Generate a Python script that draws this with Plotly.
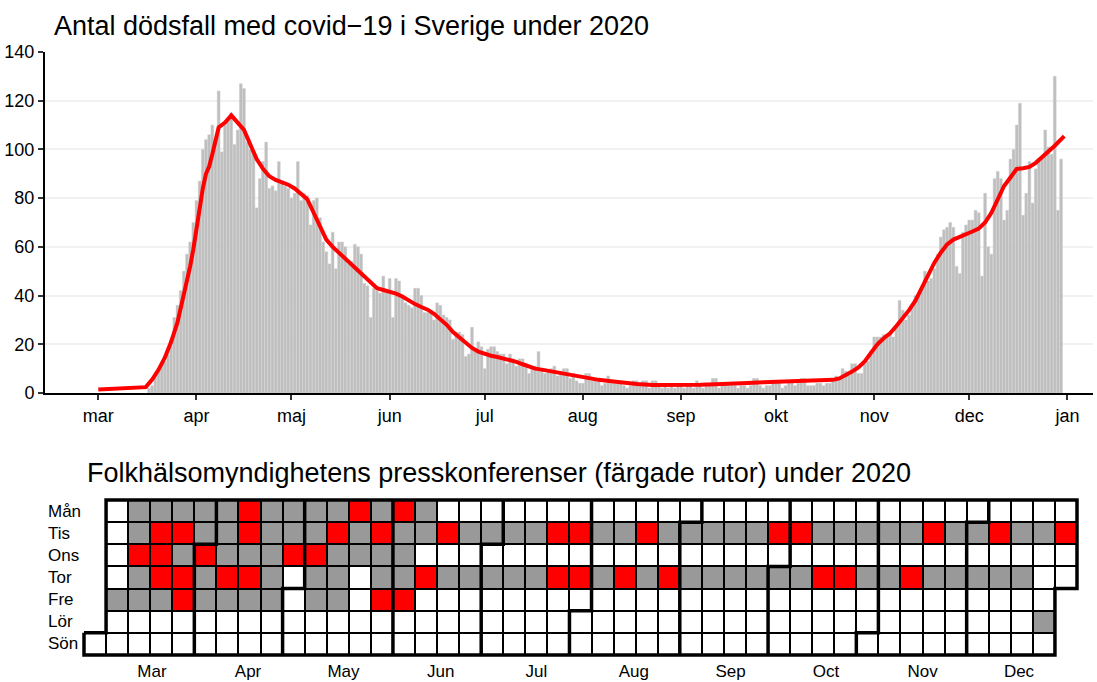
import plotly.graph_objects as go
from datetime import date, datetime, timedelta

# ---------------- data ----------------
TITLE_TOP = "Antal dödsfall med covid−19 i Sverige under 2020"
TITLE_BOTTOM = "Folkhälsomyndighetens presskonferenser (färgade rutor) under 2020"

deaths_first_day = "2020-03-17"
deaths = [
    2, 3, 8, 9, 12, 13, 16, 22, 31, 36, 42, 50, 57, 62, 70,
    79, 87, 100, 104, 106, 110, 103, 124, 99, 110,
    113, 115, 102, 108, 127, 125, 103, 100, 99, 76,
    88, 95, 103, 84, 85, 83, 95, 86, 85, 84,
    80, 82, 95, 79, 82, 81, 69, 79, 80, 72,
    62, 58, 53, 66, 51, 62, 62, 60, 53, 54,
    61, 60, 57, 45, 44, 31, 43, 42, 41, 48,
    42, 47, 31, 47, 46, 39, 37, 36, 35, 43,
    43, 40, 33, 33, 33, 30, 37, 36, 32, 31,
    30, 22, 25, 25, 24, 15, 16, 27, 17, 21,
    19, 10, 18, 19, 19, 17, 16, 16, 12, 16,
    14, 11, 14, 14, 12, 8, 10, 11, 17, 9,
    8, 9, 10, 11, 7, 9, 10, 10, 6, 8,
    5, 4, 4, 8, 8, 5, 5, 5, 3, 4,
    7, 4, 4, 4, 4, 3, 2, 3, 5, 5,
    3, 5, 5, 2, 5, 5, 3, 2, 3, 2,
    3, 2, 3, 3, 2, 3, 3, 2, 5, 3,
    2, 3, 3, 6, 6, 2, 4, 4, 3, 3,
    3, 2, 3, 3, 2, 3, 6, 6, 3, 2,
    3, 3, 5, 5, 5, 2, 3, 5, 5, 3,
    4, 6, 6, 3, 3, 3, 4, 4, 3, 4,
    4, 5, 7, 6, 10, 9, 8, 12, 12, 8,
    8, 12, 13, 17, 23, 23, 23, 24, 24, 24,
    23, 28, 38, 34, 30, 32, 35, 40, 40, 42,
    50, 46, 47, 51, 57, 64, 67, 68, 70, 68,
    52, 49, 66, 69, 71, 71, 75, 74, 48, 82,
    60, 57, 88, 91, 88, 71, 75, 96, 100, 110,
    119, 73, 82, 95, 78, 92, 95, 97, 108, 101,
    98, 130, 75, 96,
]

avg_dates = [
    "2020-03-01", "2020-03-16", "2020-03-18", "2020-03-20", "2020-03-22", "2020-03-24",
    "2020-03-26", "2020-03-28", "2020-03-30", "2020-03-31", "2020-04-01", "2020-04-02",
    "2020-04-03", "2020-04-04", "2020-04-05", "2020-04-06", "2020-04-07", "2020-04-08",
    "2020-04-10", "2020-04-12", "2020-04-14", "2020-04-16", "2020-04-18", "2020-04-20",
    "2020-04-22", "2020-04-24", "2020-04-26", "2020-04-28", "2020-04-30", "2020-05-02",
    "2020-05-04", "2020-05-06", "2020-05-08", "2020-05-10", "2020-05-12", "2020-05-14",
    "2020-05-16", "2020-05-18", "2020-05-20", "2020-05-22", "2020-05-24", "2020-05-26",
    "2020-05-28", "2020-05-30", "2020-06-01", "2020-06-03", "2020-06-05", "2020-06-07",
    "2020-06-09", "2020-06-11", "2020-06-13", "2020-06-15", "2020-06-17", "2020-06-19",
    "2020-06-21", "2020-06-23", "2020-06-25", "2020-06-27", "2020-06-29", "2020-07-01",
    "2020-07-03", "2020-07-05", "2020-07-07", "2020-07-09", "2020-07-11", "2020-07-13",
    "2020-07-15", "2020-07-17", "2020-07-19", "2020-07-21", "2020-07-25", "2020-07-29",
    "2020-08-02", "2020-08-06", "2020-08-10", "2020-08-14", "2020-08-18", "2020-08-23",
    "2020-08-28", "2020-09-02", "2020-09-07", "2020-09-12", "2020-09-17", "2020-09-22",
    "2020-09-27", "2020-10-02", "2020-10-07", "2020-10-12", "2020-10-17", "2020-10-19",
    "2020-10-21", "2020-10-23", "2020-10-25", "2020-10-27", "2020-10-29", "2020-10-31",
    "2020-11-02", "2020-11-04", "2020-11-06", "2020-11-08", "2020-11-10", "2020-11-12",
    "2020-11-14", "2020-11-16", "2020-11-18", "2020-11-20", "2020-11-22", "2020-11-24",
    "2020-11-26", "2020-11-28", "2020-11-30", "2020-12-02", "2020-12-04", "2020-12-06",
    "2020-12-08", "2020-12-10", "2020-12-12", "2020-12-14", "2020-12-16", "2020-12-18",
    "2020-12-20", "2020-12-22", "2020-12-24", "2020-12-26", "2020-12-28", "2020-12-31",
]
avg_values = [
    1.4, 2.4, 5.5, 9.5, 14.5, 21,
    29, 40, 52, 59, 68, 77,
    84, 90, 93, 98, 103, 109,
    111, 114, 111, 108, 102, 96,
    92, 89, 87.5, 86.5, 85.5, 84,
    82, 79.5, 74, 68, 63, 60,
    57.5, 55, 53, 50.5, 47.5, 45,
    43, 42.3, 41.6, 40.8, 39.6, 38,
    36.5, 35.3, 34.2, 32.5, 30.5, 28,
    25, 22.8, 20.5, 18.5, 17, 16,
    15.3, 14.8, 14.2, 13.6, 12.8, 11.8,
    10.8, 10, 9.6, 9.1, 8.3, 7,
    6.1, 5.4, 4.8, 4.2, 3.7, 3.3,
    3.2, 3.3, 3.4, 3.6, 3.7, 4.1,
    4.4, 4.6, 4.7, 4.8, 5.0, 5.4,
    6.0, 7.2, 8.8, 10.5, 13, 16.5,
    20, 22.5, 24.5, 27.5, 30.7, 34,
    37.9, 43, 49, 53.5, 57.6, 61,
    63, 64, 65, 66.3, 67.5, 70,
    74, 80, 85, 88.5, 92, 92.3,
    92.8, 94.5, 96.8, 99, 101.5, 105.5,
]

top_tick_dates = ["2020-03-01", "2020-04-01", "2020-05-01", "2020-06-01", "2020-07-01",
                  "2020-08-01", "2020-09-01", "2020-10-01", "2020-11-01", "2020-12-01",
                  "2021-01-01"]
top_tick_labels = ["mar", "apr", "maj", "jun", "jul", "aug", "sep", "okt", "nov", "dec", "jan"]

weekday_labels = ["Mån", "Tis", "Ons", "Tor", "Fre", "Lör", "Sön"]
calendar_month_labels = ["Mar", "Apr", "May", "Jun", "Jul", "Aug", "Sep", "Oct", "Nov", "Dec"]
calendar_first_day = "2020-03-01"
calendar_last_day = "2020-12-31"

red_days = [
    "2020-03-11", "2020-03-17", "2020-03-18", "2020-03-19", "2020-03-24", "2020-03-26",
    "2020-03-27", "2020-04-01", "2020-04-09", "2020-04-13", "2020-04-14", "2020-04-16",
    "2020-04-29", "2020-05-06", "2020-05-12", "2020-05-18", "2020-05-26", "2020-05-29",
    "2020-06-01", "2020-06-05", "2020-06-11", "2020-06-16", "2020-07-21", "2020-07-23",
    "2020-07-28", "2020-07-30", "2020-08-13", "2020-08-18", "2020-08-27", "2020-09-29",
    "2020-10-06", "2020-10-15", "2020-10-22", "2020-11-12", "2020-11-17", "2020-12-08",
    "2020-12-29",
]
gray_days = [
    # Mondays
    "2020-03-09", "2020-03-16", "2020-03-23", "2020-03-30", "2020-04-06", "2020-04-20",
    "2020-04-27", "2020-05-04", "2020-05-11", "2020-05-25", "2020-06-08",
    # Tuesdays
    "2020-03-10", "2020-03-31", "2020-04-07", "2020-04-21", "2020-04-28", "2020-05-05",
    "2020-05-19", "2020-06-02", "2020-06-09", "2020-06-23", "2020-06-30", "2020-07-07",
    "2020-07-14", "2020-08-04", "2020-08-11", "2020-08-25", "2020-09-01", "2020-09-08",
    "2020-09-15", "2020-09-22", "2020-10-13", "2020-10-20", "2020-10-27", "2020-11-03",
    "2020-11-10", "2020-11-24", "2020-12-01", "2020-12-15", "2020-12-22",
    # Wednesdays
    "2020-03-25", "2020-04-08", "2020-04-15", "2020-04-22", "2020-05-13", "2020-05-20",
    "2020-05-27", "2020-06-03",
    # Thursdays
    "2020-03-12", "2020-04-02", "2020-04-23", "2020-05-07", "2020-05-14", "2020-05-28",
    "2020-06-04", "2020-06-18", "2020-06-25", "2020-07-02", "2020-07-09", "2020-07-16",
    "2020-08-06", "2020-08-20", "2020-09-03", "2020-09-10", "2020-09-17", "2020-09-24",
    "2020-10-01", "2020-10-08", "2020-10-29", "2020-11-05", "2020-11-19", "2020-11-26",
    "2020-12-03", "2020-12-10", "2020-12-17",
    # Fridays
    "2020-03-06", "2020-03-13", "2020-03-20", "2020-04-03", "2020-04-10", "2020-04-17",
    "2020-04-24", "2020-05-08", "2020-05-15",
    # Saturday
    "2020-12-26",
]

# ---------------- styling / layout constants ----------------
W, H = 1097, 682
FONT = "Liberation Sans, Arial, Helvetica, sans-serif"
BAR_FILL = "#bebebe"
BAR_EDGE = "#cfcfcf"
GRAY_CELL = "#999999"
RED = "#ff0000"


def d(s):
    return date.fromisoformat(s)


# bars
first = d(deaths_first_day)
bar_dates = [(first + timedelta(days=i)).isoformat() for i in range(len(deaths))]

# calendar grid
c0 = d(calendar_first_day)
c1 = d(calendar_last_day)
week0 = c0 - timedelta(days=c0.weekday())
ncols = (c1 - week0).days // 7 + 1
status = {}
for s in gray_days:
    status[d(s)] = 1
for s in red_days:
    status[d(s)] = 2

z = [[None] * ncols for _ in range(7)]
under = [[None] * ncols for _ in range(7)]
day = c0
month_cols = {}
while day <= c1:
    col = (day - week0).days // 7
    row = day.weekday()
    z[row][col] = status.get(day, 0)
    under[row][col] = 1
    month_cols.setdefault(day.month, []).append(col)
    day += timedelta(days=1)


def cell(dt):
    return (dt - week0).days // 7, dt.weekday()


# thick lines: outline + month boundaries
lx, ly = [], []
fc, fr = cell(c0)
lc, lr = cell(c1)
outline = [(fc - .5, fr - .5), (fc + .5, fr - .5), (fc + .5, -.5), (lc + .5, -.5),
           (lc + .5, lr + .5), (lc - .5, lr + .5), (lc - .5, 6.5), (fc - .5, 6.5),
           (fc - .5, fr - .5)]
for px, py in outline:
    lx.append(px); ly.append(py)
lx.append(None); ly.append(None)
for m in range(c0.month + 1, c1.month + 1):
    cc, rr = cell(date(c0.year, m, 1))
    if rr == 0:
        pts = [(cc - .5, 6.5), (cc - .5, -.5)]
    else:
        pts = [(cc - .5, 6.5), (cc - .5, rr - .5), (cc + .5, rr - .5), (cc + .5, -.5)]
    for px, py in pts:
        lx.append(px); ly.append(py)
    lx.append(None); ly.append(None)

month_tickvals = [sum(v) / len(v) for k, v in sorted(month_cols.items())]

fig = go.Figure()

fig.add_trace(go.Bar(
    x=bar_dates, y=deaths, marker=dict(color=BAR_FILL, line=dict(color=BAR_EDGE, width=0.5)),
    xaxis="x", yaxis="y", hoverinfo="x+y", showlegend=False))
fig.add_trace(go.Scatter(
    x=avg_dates, y=avg_values, mode="lines", line=dict(color=RED, width=4),
    xaxis="x", yaxis="y", showlegend=False))

fig.add_trace(go.Heatmap(
    z=under, x=list(range(ncols)), y=list(range(7)),
    colorscale=[[0, "black"], [1, "black"]], zmin=0, zmax=1, showscale=False,
    xaxis="x2", yaxis="y2", hoverinfo="skip"))
fig.add_trace(go.Heatmap(
    z=z, x=list(range(ncols)), y=list(range(7)),
    colorscale=[[0, "white"], [0.333, "white"], [0.333, GRAY_CELL], [0.667, GRAY_CELL],
                [0.667, RED], [1, RED]],
    zmin=0, zmax=2, showscale=False, xgap=2, ygap=2,
    xaxis="x2", yaxis="y2", hoverinfo="skip"))
fig.add_trace(go.Scatter(
    x=lx, y=ly, mode="lines", line=dict(color="black", width=3.5),
    xaxis="x2", yaxis="y2", hoverinfo="skip", showlegend=False))

# top plot pixel geometry
top_left_px, top_right_px = 45, 1093
top_top_px, top_bottom_px = 52, 393
px_per_day = 3.167
mar1_px = 98.3
x0 = datetime(2020, 3, 1) + timedelta(days=(top_left_px - mar1_px) / px_per_day)
x1 = datetime(2020, 3, 1) + timedelta(days=(top_right_px - mar1_px) / px_per_day)

# calendar pixel geometry
cal_left_px, cal_right_px = 84, 1077
cal_top_px, cal_bottom_px = 500, 655
cw = (cal_right_px - cal_left_px) / ncols
ch = (cal_bottom_px - cal_top_px) / 7
pad = 0.2
cx0 = cal_left_px - pad * cw
cx1 = cal_right_px + pad * cw
cy0 = cal_top_px - pad * ch
cy1 = cal_bottom_px + pad * ch

axis_font = dict(family=FONT, size=18, color="black")
cal_font = dict(family=FONT, size=17, color="black")

fig.update_layout(
    width=W, height=H, margin=dict(l=0, r=0, t=0, b=0, pad=0, autoexpand=False),
    paper_bgcolor="white", plot_bgcolor="white",
    font=dict(family=FONT, color="black"),
    bargap=0.12, showlegend=False,
    xaxis=dict(domain=[top_left_px / W, top_right_px / W], anchor="y", type="date",
               range=[x0.isoformat(), x1.isoformat()],
               tickvals=top_tick_dates, ticktext=top_tick_labels, tickfont=axis_font,
               showgrid=False, zeroline=False, showline=True, linecolor="black", linewidth=2,
               ticks="outside", ticklen=5, tickwidth=1.5, tickcolor="#333333"),
    yaxis=dict(domain=[(H - top_bottom_px) / H, (H - top_top_px) / H], anchor="x",
               range=[0, 140], tick0=0, dtick=20, tickfont=axis_font,
               showgrid=True, gridcolor="#f1f1f1", gridwidth=1.5, zeroline=False,
               showline=True, linecolor="black", linewidth=2,
               ticks="outside", ticklen=5, tickwidth=1.5, tickcolor="#333333"),
    xaxis2=dict(domain=[cx0 / W, cx1 / W], anchor="y2", range=[-0.5 - pad, ncols - 0.5 + pad],
                tickvals=month_tickvals, ticktext=calendar_month_labels, tickfont=cal_font,
                showgrid=False, zeroline=False, showline=False, ticks="", ticklabelstandoff=0),
    yaxis2=dict(domain=[(H - cy1) / H, (H - cy0) / H], anchor="x2",
                range=[6.5 + pad, -0.5 - pad], visible=False, showgrid=False, zeroline=False),
)

annotations = [
    dict(text=TITLE_TOP, x=52 / W, y=1 - 26 / H, xref="paper", yref="paper",
         xanchor="left", yanchor="middle", showarrow=False,
         font=dict(family=FONT, size=27, color="black")),
    dict(text=TITLE_BOTTOM, x=85 / W, y=1 - 473 / H, xref="paper", yref="paper",
         xanchor="left", yanchor="middle", showarrow=False,
         font=dict(family=FONT, size=27, color="black")),
]
for i, lab in enumerate(weekday_labels):
    annotations.append(dict(text=lab, x=46 / W, y=i, xref="paper", yref="y2",
                            xanchor="left", yanchor="middle", showarrow=False,
                            font=cal_font))
fig.update_layout(annotations=annotations)

# remove the browser's default 8px page margin so the figure sits at the window origin
fig.write_html("out.html", config={"displayModeBar": False},
               post_script="document.body.style.margin='0';document.body.style.overflow='hidden';")
